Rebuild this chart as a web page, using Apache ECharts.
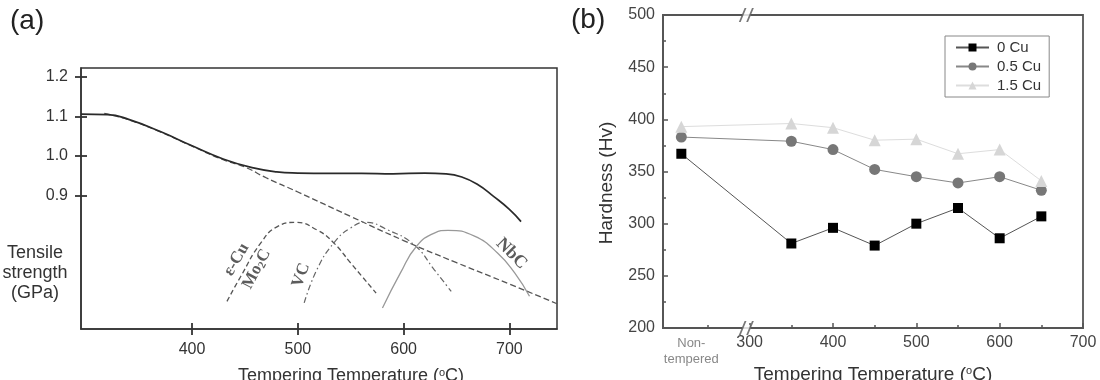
<!DOCTYPE html>
<html><head><meta charset="utf-8">
<script src="https://cdn.jsdelivr.net/npm/echarts@6/dist/echarts.min.js"></script>
<style>html,body{margin:0;padding:0;background:#fff}#c{width:1100px;height:380px}</style>
</head><body><div id="c"></div>
<script>
// ---------- Panel (a): tensile strength vs tempering temperature ----------
const tempMain     = [295, 320, 340, 370, 400, 430, 458, 480, 500, 530, 560, 590, 620, 640, 655, 670, 685, 700, 711];
const strengthMain = [1.106, 1.105, 1.093, 1.062, 1.026, 0.992, 0.970, 0.960, 0.957, 0.956, 0.956, 0.955, 0.957, 0.955, 0.947, 0.928, 0.898, 0.865, 0.834];
const tempBase     = [317, 340, 370, 400, 430, 450, 470, 500, 550, 600, 650, 700, 745];
const strengthBase = [1.108, 1.092, 1.061, 1.025, 0.990, 0.972, 0.945, 0.909, 0.847, 0.786, 0.730, 0.676, 0.626];
const tempCu       = [433, 446, 465, 481, 498, 518, 534, 550, 574];
const strengthCu   = [0.632, 0.695, 0.780, 0.822, 0.832, 0.813, 0.780, 0.729, 0.653];
const tempVC       = [506, 518, 534, 550, 564, 585, 610, 629, 645];
const strengthVC   = [0.628, 0.712, 0.780, 0.818, 0.832, 0.813, 0.775, 0.712, 0.657];
const tempNbC      = [580, 597, 612, 629, 642, 667, 689, 705, 719];
const strengthNbC  = [0.615, 0.704, 0.771, 0.805, 0.812, 0.797, 0.754, 0.704, 0.645];
const precipNames  = ['ε-Cu', 'Mo{sub|2}C', 'VC', 'NbC'];
const precipT      = [442, 461, 503, 702];
const precipS      = [0.738, 0.714, 0.698, 0.753];
const ticksAx      = [400, 500, 600, 700];
const ticksAy      = [0.9, 1.0, 1.1, 1.2];

// ---------- Panel (b): hardness vs tempering temperature ----------
const seriesNames  = ['0 Cu', '0.5 Cu', '1.5 Cu'];
const hvTemps      = [218, 350, 400, 450, 500, 550, 600, 650];   // first point = non-tempered
const hv0          = [367, 281, 296, 279, 300, 315, 286, 307];
const hv05         = [383, 379, 371, 352, 345, 339, 345, 332];
const hv15         = [393, 396, 392, 380, 381, 367, 371, 341];
const ticksBx      = [300, 400, 500, 600, 700];
const minorBx      = [250, 350, 450, 550, 650];
const nonTemperedAt = 230;
const axisBreakAt  = 296;
const breakGap     = [277, 299];

// ---------- styles ----------
const SANS = 'Liberation Sans, Arial, sans-serif';
const SERIF = 'Liberation Serif, Times New Roman, serif';
const precipRotate = [60, 62, 70, -45];
const precipSize = [17, 17, 17, 18];
const zip = (xs, ys) => xs.map((x, i) => [x, ys[i]]);

const chart = echarts.init(document.getElementById('c'), null, {renderer: 'canvas'});

const axA = {color: '#333', width: 1.5};
const tickA = {color: '#333', width: 1.8};
const axB = {color: '#555', width: 1.8};

const option = {
  animation: false,
  backgroundColor: '#fff',
  textStyle: {fontFamily: SANS},
  title: [
    {text: '(a)', left: 10, top: 7, padding: 0, textStyle: {fontSize: 28, fontWeight: 'normal', color: '#222', fontFamily: SANS}},
    {text: '(b)', left: 571, top: 6, padding: 0, textStyle: {fontSize: 28, fontWeight: 'normal', color: '#222', fontFamily: SANS}}
  ],
  graphic: [
    {type: 'text', x: 35, y: 243, silent: true,
     style: {text: 'Tensile\nstrength\n(GPa)', align: 'center', verticalAlign: 'top',
       fontSize: 18, lineHeight: 20, fill: '#333', fontFamily: SANS}}
  ],
  grid: [
    {left: 81, top: 68, width: 476, height: 261, show: true, borderColor: '#333', borderWidth: 1.5,
     containLabel: false, outerBoundsMode: 'none'},
    {left: 663, top: 15, width: 420, height: 313, show: true, borderColor: '#555', borderWidth: 1.8,
     containLabel: false, outerBoundsMode: 'none'}
  ],
  legend: {
    data: seriesNames, orient: 'vertical', left: 945, top: 36,
    borderColor: '#888', borderWidth: 1, padding: [3, 8, 3, 10],
    itemWidth: 33, itemHeight: 10, itemGap: 2,
    textStyle: {fontSize: 15, color: '#333', fontFamily: SANS, lineHeight: 17, padding: [0, 0, 0, 3]}
  },
  xAxis: [
    {gridIndex: 0, type: 'value', min: 295, max: 745,
     axisLine: {lineStyle: axA}, splitLine: {show: false},
     axisTick: {customValues: ticksAx, length: 6, lineStyle: tickA},
     axisLabel: {customValues: ticksAx, fontSize: 16, color: '#333', margin: 13, fontFamily: SANS},
     name: 'Tempering Temperature ({sup|o}C)', nameLocation: 'middle', nameGap: 38,
     nameTextStyle: {fontSize: 18, color: '#333', fontFamily: SANS, padding: [0, 0, 0, 64],
       rich: {sup: {fontSize: 11, fontFamily: SANS, color: '#333', padding: [0, 0, 8, 0]}}}},
    {gridIndex: 0, type: 'value', min: 295, max: 745, position: 'bottom',
     axisLine: {show: false}, splitLine: {show: false}, axisLabel: {show: false},
     axisTick: {customValues: ticksAx, inside: true, length: 6, lineStyle: tickA}},
    {gridIndex: 1, type: 'value', min: 196, max: 700,
     axisLine: {lineStyle: axB}, splitLine: {show: false},
     axisTick: {customValues: ticksBx, inside: true, length: 5, lineStyle: {color: '#555', width: 1.5}},
     axisLabel: {customValues: [nonTemperedAt].concat(ticksBx), fontSize: 16, color: '#444', margin: 7, fontFamily: SANS,
       formatter: v => v === nonTemperedAt ? '{nt|Non-}\n{nt|tempered}' : String(v),
       rich: {nt: {fontSize: 13, color: '#888', lineHeight: 16, fontFamily: SANS}}},
     name: 'Tempering Temperature ({sup|o}C)', nameLocation: 'middle', nameGap: 37, nameMoveOverlap: false,
     nameTextStyle: {fontSize: 19, color: '#333', fontFamily: SANS,
       rich: {sup: {fontSize: 11, fontFamily: SANS, color: '#333', padding: [0, 0, 8, 0]}}}},
    {gridIndex: 1, type: 'value', min: 196, max: 700, position: 'bottom',
     axisLine: {show: false}, splitLine: {show: false}, axisLabel: {show: false},
     axisTick: {customValues: minorBx, inside: true, length: 3, lineStyle: {color: '#555', width: 1.5}}}
  ],
  yAxis: [
    {gridIndex: 0, type: 'value', min: 0.562, max: 1.223,
     axisLine: {show: true, lineStyle: axA}, splitLine: {show: false},
     axisTick: {show: true, customValues: ticksAy, length: 6, lineStyle: tickA},
     axisLabel: {customValues: ticksAy, fontSize: 16, color: '#333', margin: 13, fontFamily: SANS,
       formatter: v => v.toFixed(1)}},
    {gridIndex: 0, type: 'value', min: 0.562, max: 1.223, position: 'left',
     axisLine: {show: false}, splitLine: {show: false}, axisLabel: {show: false},
     axisTick: {show: true, customValues: ticksAy, inside: true, length: 6, lineStyle: tickA}},
    {gridIndex: 1, type: 'value', min: 200, max: 500, interval: 50,
     axisLine: {show: true, lineStyle: axB}, splitLine: {show: false},
     axisTick: {show: true, inside: true, length: 5, lineStyle: {color: '#555', width: 1.5}},
     minorTick: {show: true, splitNumber: 2, length: 3, lineStyle: {color: '#555', width: 1.5}},
     axisLabel: {fontSize: 16, color: '#444', margin: 8, fontFamily: SANS},
     name: 'Hardness (Hv)', nameLocation: 'middle', nameGap: 47,
     nameTextStyle: {fontSize: 19, color: '#333', fontFamily: SANS, padding: [0, 23, 0, 0]}}
  ],
  series: [
    // panel (a)
    {type: 'line', xAxisIndex: 0, yAxisIndex: 0, data: zip(tempBase, strengthBase), smooth: true, showSymbol: false,
     lineStyle: {color: '#555', width: 1.3, type: [6, 3]}, z: 2},
    {type: 'line', xAxisIndex: 0, yAxisIndex: 0, data: zip(tempMain, strengthMain), smooth: true, showSymbol: false,
     lineStyle: {color: '#2a2a2a', width: 1.7}, z: 3},
    {type: 'line', xAxisIndex: 0, yAxisIndex: 0, data: zip(tempCu, strengthCu), smooth: true, showSymbol: false,
     lineStyle: {color: '#555', width: 1.3, type: [5, 3]}},
    {type: 'line', xAxisIndex: 0, yAxisIndex: 0, data: zip(tempVC, strengthVC), smooth: true, showSymbol: false,
     lineStyle: {color: '#666', width: 1.2, type: [6, 3, 1.5, 3]}},
    {type: 'line', xAxisIndex: 0, yAxisIndex: 0, data: zip(tempNbC, strengthNbC), smooth: true, showSymbol: false,
     lineStyle: {color: '#999', width: 1.3}},
    {type: 'scatter', xAxisIndex: 0, yAxisIndex: 0, symbolSize: 1, itemStyle: {color: 'transparent'}, z: 5,
     data: precipNames.map((n, i) => ({value: [precipT[i], precipS[i]], name: n,
       label: {rotate: precipRotate[i], fontSize: precipSize[i]}})),
     label: {show: true, position: 'inside', formatter: p => p.name,
       fontFamily: SERIF, fontWeight: 'bold', fontSize: 17, color: '#333',
       rich: {sub: {fontFamily: SERIF, fontWeight: 'bold', fontSize: 11, color: '#333', padding: [7, 0, 0, 0]}}}},
    // panel (b)
    {name: seriesNames[0], type: 'line', xAxisIndex: 2, yAxisIndex: 2, data: zip(hvTemps, hv0),
     symbol: 'rect', symbolSize: 10, itemStyle: {color: '#000'}, lineStyle: {color: '#555', width: 1}, z: 2},
    {name: seriesNames[1], type: 'line', xAxisIndex: 2, yAxisIndex: 2, data: zip(hvTemps, hv05),
     symbol: 'circle', symbolSize: 11, itemStyle: {color: '#777'}, lineStyle: {color: '#888', width: 1}, z: 2},
    {name: seriesNames[2], type: 'line', xAxisIndex: 2, yAxisIndex: 2, data: zip(hvTemps, hv15),
     symbol: 'triangle', symbolSize: 12, itemStyle: {color: '#d6d6d6'}, lineStyle: {color: '#ddd', width: 1}, z: 2},
    // white band: gap in the lines at the axis break
    {type: 'line', xAxisIndex: 2, yAxisIndex: 2, z: 6, silent: true,
     data: [[breakGap[0], 350]], symbol: 'none', showSymbol: false, lineStyle: {opacity: 0},
     markArea: {silent: true, itemStyle: {color: '#fff', opacity: 1},
       data: [[{xAxis: breakGap[0], yAxis: 205}, {xAxis: breakGap[1], yAxis: 495}]]}},
    // axis break marks
    {type: 'scatter', xAxisIndex: 2, yAxisIndex: 2, z: 7, silent: true, clip: false,
     data: [[axisBreakAt, 500], [axisBreakAt, 200]],
     symbol: 'rect', symbolSize: [8, 6], itemStyle: {color: '#fff'}},
    {type: 'scatter', xAxisIndex: 2, yAxisIndex: 2, z: 8, silent: true, clip: false,
     data: [[axisBreakAt, 500], [axisBreakAt, 200]],
     symbol: 'path://M0,14 L5,0 L6.6,0 L1.6,14 Z M6.4,14 L11.4,0 L13,0 L8,14 Z', symbolSize: [15, 14],
     itemStyle: {color: '#555'}}
  ]
};
chart.setOption(option);
</script>
</body></html>
